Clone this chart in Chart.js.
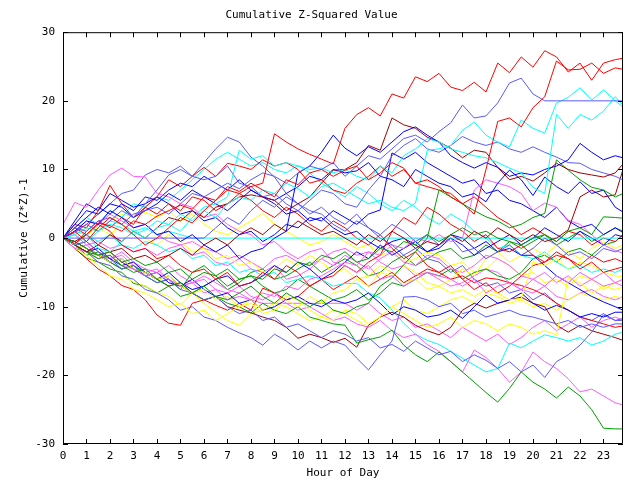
<!DOCTYPE html>
<html>
<head>
<meta charset="utf-8">
<title>Cumulative Z-Squared Value</title>
<script src="https://cdn.jsdelivr.net/npm/chart.js@4.4.1/dist/chart.umd.min.js"></script>
<style>
  html, body { margin: 0; padding: 0; background: #fff; }
  canvas { display: block; }
</style>
</head>
<body>
<canvas id="chart" width="640" height="480"></canvas>
<script>
// half-hour readings, last one at the end of the axis
const hours = [0,0.5,1,1.5,2,2.5,3,3.5, 4,4.5,5,5.5,6,6.5,7,7.5, 8,8.5,9,9.5,10,10.5,11,11.5,
  12,12.5,13,13.5,14,14.5,15,15.5, 16,16.5,17,17.5,18,18.5,19,19.5, 20,20.5,21,21.5,22,22.5,23,23.5, 23.83];
const xTicks = [0,1,2,3,4,5,6,7,8,9,10,11,12,13,14,15,16,17,18,19,20,21,22,23];
const yTicks = [-30, -20, -10, 0, 10, 20, 30];

const red1 = [0,-0.8,0.5,2.2,1.8,1.0,2.5,2.0, 3.2,4.0,4.8,4.2,6.0,5.5,7.0,6.5, 7.5,8.0,15.2,14.0,13.0,12.2,11.5,10.8,
  16.0,18.0,19.0,17.8,21.0,20.4,23.5,22.8, 24.0,22.0,21.5,22.7,21.3,25.5,24.1,26.4, 24.9,27.3,26.4,24.2,25.5,23.0,25.5,26.0, 26.2];
const red2 = [0,1.0,-0.5,1.5,3.0,2.0,0.5,-1.0, 0.0,1.5,3.0,2.2,4.0,5.5,7.5,6.8, 8.0,7.0,6.0,8.5,7.8,9.5,10.0,9.0,
  9.9,10.5,8.5,9.5,11.0,10.2,8.0,8.5, 7.5,6.0,5.0,3.5,10.0,17.0,17.5,16.2, 19.0,20.6,25.8,24.5,24.6,25.5,24.0,24.8, 24.6];
const lblue1 = [0,1.5,1.0,2.5,3.0,2.0,3.5,4.0, 4.5,3.5,5.0,6.5,6.0,7.0,8.0,7.2, 8.5,9.5,9.0,8.0,9.5,10.5,10.0,11.0,
  9.0,10.5,12.0,11.5,13.0,14.5,15.0,14.0, 15.5,16.8,19.4,17.5,17.8,19.7,22.6,23.3, 21.0,20.0,20.0,20.0,20.0,20.0,20.0,20.0, 20.0];
const cyan1 = [0,-1.0,0.5,-1.5,-2.0,-0.5,1.0,0.0, 1.5,2.0,3.5,2.5,4.0,3.0,5.0,6.0, 5.5,7.0,6.5,8.0,7.2,6.0,7.5,8.0,
  7.0,6.0,5.0,5.5,4.5,4.0,5.1,12.8, 13.0,13.5,15.7,16.9,15.0,14.0,13.3,17.2, 16.0,15.3,19.7,20.5,21.9,20.1,21.6,20.0, 19.1];
const cyan2 = [0,0.5,-0.5,1.0,2.0,1.5,0.5,1.2, 2.5,2.0,1.0,3.0,4.5,5.0,6.0,12.8, 11.5,12.0,10.5,11.0,10.5,10.0,10.2,9.5,
  10.0,9.0,8.5,10.5,9.5,12.0,13.0,14.5, 14.0,13.0,12.5,12.0,11.7,11.0,10.2,9.5, 7.4,6.5,18.0,16.0,18.0,17.2,18.5,20.6, 19.4];
const blue1 = [0,1.0,2.5,2.0,4.0,3.0,1.5,2.0, 0.5,1.0,-0.5,0.5,-1.0,-2.0,-1.0,-3.0, -2.0,-1.5,0.0,1.0,9.5,10.5,12.5,15.0,
  13.1,12.0,13.3,12.5,14.0,15.5,16.2,15.0, 14.0,12.0,11.0,10.2,11.0,10.3,9.0,9.5, 9.2,10.0,10.5,11.4,13.8,12.5,11.4,12.0, 11.7];
const dred1 = [0,-1.0,-2.0,-1.0,0.5,-0.5,1.0,0.0, 1.5,3.0,2.5,4.0,3.0,4.5,5.0,6.0, 6.3,6.0,5.5,4.0,5.0,6.0,8.0,9.9,
  10.0,11.0,13.5,12.8,17.5,16.5,16.0,14.7, 14.0,13.1,11.7,12.8,12.5,10.3,8.5,9.0, 8.3,9.5,10.9,10.0,9.5,9.2,8.9,9.5, 10.8];
const lblue2 = [0,0.8,2.0,1.0,2.5,4.0,3.0,5.0, 7.0,9.2,10.0,9.0,8.5,9.0,10.5,8.0, 7.5,6.0,6.5,5.0,4.0,5.5,7.0,6.5,
  5.0,4.5,7.0,9.0,12.0,13.5,14.5,13.0, 12.5,13.5,14.8,14.0,13.5,14.0,13.0,12.5, 13.3,12.5,11.8,11.0,10.9,10.0,9.5,9.0, 8.5];
const green1 = [0,-1.0,-2.0,-3.0,-2.5,-4.0,-5.0,-4.5, -6.0,-7.0,-6.5,-8.0,-7.0,-8.5,-9.0,-8.0, -7.0,-8.5,-9.5,-8.0,-9.0,-10.0,-9.0,-10.5,
  -11.0,-10.0,-9.5,-7.0,-5.8,-3.9,-2.0,0.0, 7.0,6.0,5.0,4.0,3.1,2.5,1.5,2.0, 3.0,3.6,11.4,9.9,8.5,7.4,7.0,6.0, 6.5];
const blue2 = [0,2.0,4.0,3.5,5.0,4.5,3.0,4.0, 5.0,6.5,5.5,7.0,6.0,5.0,4.0,5.5, 7.0,6.0,5.5,6.5,7.5,9.0,8.5,10.0,
  9.5,9.8,11.0,9.0,8.5,7.5,10.0,9.0, 8.0,7.5,6.0,6.5,5.3,8.0,9.9,8.5, 6.2,8.9,7.5,6.5,8.2,6.5,7.0,4.5, 3.8];
const green2 = [0,-0.5,-1.5,-2.5,-2.0,-3.5,-3.0,-4.0, -3.5,-5.0,-4.5,-6.0,-5.0,-5.5,-7.0,-6.0, -5.5,-6.0,-4.5,-5.0,-3.5,-4.0,-2.5,-3.0,
  -2.0,-3.5,-3.0,-1.5,-2.0,-0.5,-1.0,0.5, -0.5,0.5,1.5,0.5,1.0,0.0,-0.5,-1.0, 0.0,0.5,-0.5,1.0,1.5,0.5,3.1,3.0, 2.9];
const lblue3 = [0,0,0,0,0,0,0,0, 0,0,0,0,0,1.5,3.0,2.0, 4.0,5.5,4.5,6.0,5.0,3.5,4.5,3.0,
  2.0,3.5,1.5,0.5,2.0,1.0,-0.5,0.5, -1.0,0.0,-2.0,-1.5,-3.0,-2.0,-1.0,-2.5, -1.5,0.0,-1.0,-2.5,-2.0,-3.0,-1.5,-2.0, -1.5];
const cyanFlat = [0,0.5,1.5,1.0,2.5,2.0,1.0,1.5, 0.5,1.0,0.5,0,0,0,0,0, 0,0,0,0,0,0,0,0,
  0,0,0,0,0,0,0,0, 0,0,0,0,0,0,0,0, 0,0,0,0,0,0,0,0, 0];
const mag1 = [2.0,5.2,4.5,7.0,9.2,10.2,9.0,8.9, 6.5,6.0,5.0,4.5,3.0,3.5,2.0,1.0, 0.5,-1.0,-0.5,-2.0,-3.0,-2.0,-1.5,-3.5,
  -4.0,-5.0,-4.0,-6.0,-5.5,-7.0,-6.0,-5.0, -5.5,-6.0,-7.0,-6.0,-8.0,-7.0,-6.5,-7.5, -6.0,-7.0,-5.5,-6.5,-5.0,-6.0,-7.0,-6.5, -6.0];
const mag2 = [0,-1.5,-2.0,-3.0,-2.5,-4.0,-4.5,-5.5, -5.0,-6.0,-7.0,-6.5,-5.5,-6.5,-7.5,-8.0, -9.0,-8.0,-8.5,-7.0,-7.5,-6.0,-5.5,-4.5,
  -3.5,-4.0,-2.0,-2.5,-1.0,-1.5,0.0,-0.5, 0.5,-0.5,0.0,7.0,8.5,8.0,7.5,6.5, 4.0,5.1,4.5,2.6,2.0,0.5,-1.0,-1.8, -2.2];
const red3 = [0,1.5,0.5,2.0,1.0,-1.0,-2.0,-1.5, -3.0,-2.5,-4.0,-5.0,-4.5,-6.0,-5.0,-7.0, -6.5,-5.0,-6.0,-4.0,-5.0,-7.0,-6.0,-5.5,
  -4.0,-5.0,-3.5,-2.5,1.0,3.0,2.0,4.5, 3.5,2.0,1.0,-0.5,0.5,-1.5,-2.0,-1.0, -2.5,-3.5,-2.0,-3.0,-4.5,-3.5,-5.0,-4.5, -4.2];
const yel1 = [0,-1.0,-1.5,-2.5,-3.5,-3.0,-4.5,-5.0, -6.0,-5.5,-7.0,-8.0,-7.5,-9.0,-8.5,-10.0, -9.5,-11.0,-10.5,-9.0,-10.0,-8.5,-9.5,-8.0,
  -7.5,-6.0,-7.0,-5.0,-5.5,-4.0,-5.0,-6.5, -7.0,-8.0,-7.5,-8.5,-7.5,-8.0,-9.0,-8.8, -3.5,-4.0,-3.0,-4.5,-3.5,-4.0,-5.0,-5.5, -5.6];
const yel2 = [0,-1.5,-2.5,-4.0,-5.5,-6.0,-7.5,-8.0, -9.0,-10.0,-9.5,-11.0,-10.5,-12.0,-11.0,-10.0, -9.0,-10.5,-9.5,-8.5,-9.0,-10.5,-11.5,-12.0,
  -10.5,-11.0,-12.5,-11.5,-10.0,-11.0,-12.0,-13.0, -12.5,-11.5,-13.0,-12.0,-12.5,-13.5,-12.5,-13.0, -14.0,-13.5,-14.1,-5.8,-6.5,-8.0,-7.0,-7.5, -7.1];
const blue3 = [0,1.5,3.0,4.5,3.5,5.0,4.0,6.0, 5.5,7.0,8.0,7.5,9.0,8.0,7.0,8.5, 7.0,6.0,5.0,3.5,4.0,2.5,3.0,1.5,
  0.5,1.0,-0.5,-1.5,-0.5,0.0,-1.0,-2.0, -1.5,0.0,-1.0,-2.5,-1.5,-0.5,0.5,-1.0, 0.0,1.5,0.5,-0.5,1.0,0.0,-1.0,0.5, 0.2];
const blue4 = [0,-1.0,-2.0,-1.5,-3.0,-4.0,-3.5,-5.0, -6.0,-5.0,-6.5,-7.5,-7.0,-6.0,-5.5,-7.0, -6.5,-5.5,-4.0,-5.0,-3.5,-4.5,-6.0,-5.0,
  -3.5,-2.0,-3.0,-1.0,-2.5,-1.5,-0.5,-2.0, -1.0,0.5,0.0,-1.5,-0.5,-2.0,-1.5,-2.5, -2.5,-4.0,-5.5,-6.5,-7.5,-8.5,-9.3,-10.0, -10.5];
const blue5 = [0,-0.5,-1.5,-2.5,-3.5,-3.0,-4.5,-5.5, -5.0,-6.5,-7.0,-6.0,-7.5,-8.5,-8.0,-9.5, -9.0,-10.5,-10.0,-9.0,-8.5,-9.5,-10.0,-9.0,
  -9.5,-9.0,-8.0,-9.5,-11.2,-10.0,-10.5,-11.5, -11.2,-10.5,-11.7,-10.0,-8.3,-9.5,-9.0,-8.0, -9.5,-10.5,-9.8,-10.5,-11.5,-11.0,-11.5,-10.8, -10.8];
const lblue4 = [0,-1.0,-0.5,-2.0,-3.0,-4.5,-4.0,-5.5, -6.5,-6.0,-7.5,-8.0,-9.0,-8.5,-10.0,-11.0, -10.5,-12.0,-11.5,-13.0,-12.5,-13.5,-14.5,-13.5,
  -14.0,-15.0,-14.5,-16.0,-15.5,-16.5,-15.0,-16.0, -17.0,-16.5,-18.0,-17.0,-17.8,-19.0,-18.0,-19.5, -18.5,-20.3,-18.0,-17.0,-15.6,-13.7,-11.2,-12.0, -11.7];
const lblue5 = [0,-1.0,-2.0,-3.5,-4.0,-5.5,-6.0,-7.5, -8.0,-9.0,-10.5,-10.0,-11.5,-12.0,-13.0,-13.8, -14.5,-15.6,-14.0,-15.0,-16.3,-15.0,-16.0,-15.0,
  -15.6,-17.5,-19.2,-17.0,-15.0,-8.6,-8.5,-9.0, -10.0,-9.5,-11.0,-10.5,-11.5,-11.0,-10.5,-11.2, -11.5,-12.0,-12.5,-12.0,-13.0,-12.5,-13.0,-12.5, -12.5];
const green3 = [0,-1.0,-2.0,-2.5,-3.5,-4.5,-4.0,-5.0, -6.0,-5.5,-7.0,-8.0,-9.0,-8.5,-9.5,-10.0, -10.9,-9.5,-10.5,-11.0,-10.0,-11.5,-12.0,-12.5,
  -12.7,-15.3,-14.8,-14.4,-13.4,-15.6,-17.0,-18.0, -16.6,-18.0,-19.5,-21.0,-22.5,-23.9,-21.9,-19.5, -21.0,-22.0,-23.3,-21.7,-23.0,-25.0,-27.7,-27.8, -27.8];
const mag3 = [0,-1.5,-1.0,-2.5,-3.0,-2.0,-3.5,-4.5, -5.0,-4.0,-5.5,-6.5,-6.0,-7.5,-8.0,-7.0, -8.5,-9.0,-8.0,-9.5,-10.5,-10.0,-11.0,-12.0,
  -11.5,-12.5,-13.0,-12.0,-13.5,-14.5,-14.0,-15.5, -16.5,-18.0,-19.5,-16.3,-17.4,-19.0,-21.0,-19.5, -16.6,-18.0,-19.0,-20.5,-22.4,-22.0,-23.0,-24.0, -24.3];
const cyan3 = [0,1.0,0.5,-0.5,0.5,-1.0,-1.5,-0.5, -1.0,-2.0,-1.5,-3.0,-2.5,-4.0,-3.5,-5.0, -4.5,-5.5,-5.0,-6.5,-6.0,-5.5,-6.0,-7.0,
  -6.6,-6.6,-8.0,-8.7,-10.5,-12.4,-14.0,-14.9, -15.5,-16.5,-17.5,-18.5,-19.5,-19.0,-15.3,-16.0, -15.0,-14.1,-14.5,-15.0,-14.5,-15.6,-15.0,-14.0, -13.7];
const red4 = [0,-1.5,-3.0,-4.5,-5.5,-6.9,-7.5,-9.0, -11.2,-12.4,-12.7,-9.5,-9.0,-9.8,-10.5,-9.5, -10.5,-7.3,-8.0,-9.0,-8.5,-7.0,-6.0,-7.5,
  -6.5,-5.5,-7.0,-6.0,-5.0,-6.5,-5.5,-4.5, -5.0,-6.0,-5.5,-6.5,-5.8,-6.0,-6.5,-6.9, -7.5,-8.3,-9.5,-10.5,-11.5,-12.0,-12.5,-13.0, -12.8];
const dred3 = [0,-0.5,-1.5,-2.5,-2.0,-3.5,-4.5,-5.0, -6.0,-7.0,-6.5,-8.0,-9.0,-8.5,-10.0,-10.5, -10.9,-11.5,-12.0,-13.0,-14.6,-14.0,-14.5,-15.2,
  -14.6,-15.9,-12.7,-11.5,-10.8,-11.5,-12.7,-13.5, -14.1,-13.0,-10.5,-9.5,-10.2,-9.5,-9.0,-8.6, -9.5,-10.0,-12.7,-13.7,-12.7,-13.5,-14.0,-14.5, -14.9];
const yel3 = [0,-1.0,-2.0,-3.5,-4.0,-5.5,-6.4,-7.0, -7.9,-8.5,-9.8,-8.0,-9.5,-10.8,-12.0,-12.7, -11.0,-10.5,-9.5,-10.0,-11.0,-12.0,-11.5,-10.5,
  -11.0,-12.0,-13.0,-11.5,-10.0,-9.0,-10.5,-11.0, -10.0,-9.0,-8.5,-9.5,-8.0,-8.5,-9.5,-9.0, -10.0,-9.5,-10.5,-9.0,-8.0,-8.5,-9.0,-8.5, -8.8];
const yel4 = [0,-0.5,0.5,1.5,0.5,2.0,1.0,0.0, -1.0,0.5,-0.5,-2.0,-1.5,-3.0,-2.5,-4.0, -3.5,-5.0,-4.5,-3.0,-4.0,-2.5,-3.5,-5.0,
  -4.5,-6.0,-5.5,-4.0,-5.0,-6.5,-6.0,-7.5, -7.0,-6.0,-4.5,-5.5,-3.0,-2.0,-3.5,-2.5, -1.5,-2.5,-1.0,-2.0,-3.0,-1.5,-0.5,-1.5, -1.0];
const mag4 = [0,1.0,2.5,2.0,3.5,2.5,1.5,2.0, 0.5,-0.5,-1.0,-2.5,-2.0,-3.5,-4.0,-3.0, -4.5,-5.0,-4.0,-6.0,-5.5,-4.5,-3.0,-4.0,
  -2.5,-3.5,-4.5,-3.0,-2.0,-3.5,-4.0,-2.5, -3.0,-4.5,-5.0,-4.0,-2.5,-3.0,-4.0,-5.5, -6.0,-5.0,-6.5,-5.5,-7.0,-6.0,-5.0,-6.5, -7.0];
const red5 = [0,2.0,1.5,4.0,7.7,5.0,3.0,4.5, 6.0,8.5,7.5,9.0,10.3,9.0,10.9,10.5, 10.0,11.4,10.5,11.0,10.0,8.0,8.5,7.0,
  6.5,8.0,9.0,10.5,9.0,10.0,8.0,7.5, 7.0,6.5,5.0,6.0,4.5,3.0,2.0,0.5, 1.5,0.5,-0.5,1.0,0.5,-1.0,0.0,-0.5, 0.5];
const red6 = [0,-1.0,1.0,2.5,1.5,3.0,2.0,4.5, 3.5,5.0,4.0,6.0,5.5,4.0,5.0,6.5, 5.5,4.0,3.0,4.5,3.5,2.0,1.0,2.5,
  1.5,0.0,-1.0,0.5,-1.5,-3.0,-2.0,-4.0, -5.0,-4.0,-6.0,-7.5,-6.5,-8.0,-7.0,-5.5, -4.0,-3.5,-2.5,-3.0,-4.0,-2.5,-3.5,-3.0, -3.5];
const blue6 = [0,2.5,5.0,4.0,6.5,5.5,4.5,5.0, 6.0,5.0,3.5,4.0,2.5,3.0,1.5,0.5, 1.0,-0.5,0.5,2.0,1.5,3.0,2.5,4.0,
  3.0,2.0,3.5,4.1,12.4,11.5,12.5,11.0, 10.0,9.0,8.0,8.5,6.5,7.0,5.5,5.0, 4.0,3.0,4.5,2.5,1.5,2.0,0.5,1.5, 0.8];
const cyan4 = [0,1.5,3.0,2.0,4.0,3.0,5.0,4.5, 6.0,5.5,7.0,8.5,10.0,11.5,12.5,11.5, 10.5,11.0,10.0,9.5,10.6,9.5,8.0,7.0,
  6.0,7.5,6.5,5.0,4.0,5.5,4.5,3.0, 2.0,3.5,2.5,1.0,0.0,-1.5,-1.0,-2.5, -3.0,-2.0,-3.5,-4.5,-4.0,-5.0,-4.5,-5.0, -4.5];
const green4 = [0,-1.0,-2.5,-2.0,-3.5,-4.5,-4.0,-5.5, -6.5,-6.0,-7.5,-5.0,-4.0,-5.5,-4.5,-6.0, -5.5,-7.0,-8.0,-7.5,-6.0,-7.0,-8.0,-9.0,
  -8.5,-7.5,-9.0,-8.0,-6.5,-7.0,-6.0,-5.0, -5.5,-4.5,-6.0,-5.0,-4.5,-5.5,-6.0,-5.0, -3.0,-2.5,-3.5,-2.0,-1.5,-2.5,-1.0,-0.5, 0.5];
const yel5 = [0,0.5,1.5,1.0,2.5,3.5,3.0,3.8, 3.0,4.0,2.5,3.5,2.0,1.0,0.5,1.5, 2.5,3.6,2.0,1.0,0.0,-1.0,-0.5,0.5,
  -0.5,-1.5,-1.0,-2.5,-2.0,-3.5,-3.0,-2.0, -2.5,-4.0,-3.5,-5.0,-4.5,-3.0,-4.0,-5.5, -5.0,-6.5,-6.0,-7.0,-5.5,-6.0,-7.5,-6.5, -6.0];
const green5 = [0,-1.5,-2.9,-3.5,-4.5,-5.0,-6.6,-7.0, -8.0,-7.0,-8.5,-8.0,-7.0,-6.0,-7.5,-6.5, -5.0,-4.5,-6.0,-5.5,-4.5,-3.5,-5.0,-4.0,
  -3.0,-4.0,-5.5,-5.0,-3.5,-2.5,-4.0,-3.0, -2.0,-1.5,-3.0,-2.5,-1.0,-2.0,-0.5,-1.5, -0.5,0.5,-1.0,0.0,1.0,-0.5,0.5,1.5, 1.0];
const mag5 = [0,-1.0,-0.5,-2.0,-3.0,-2.5,-4.0,-5.0, -4.5,-6.0,-7.0,-6.5,-8.0,-7.5,-9.0,-8.5, -9.0,-9.5,-9.5,-9.5,-9.5,-9.5,-9.5,-9.5,
  -9.5,-10.5,-9.5,-11.0,-12.0,-11.5,-13.0,-12.5, -13.5,-14.5,-13.0,-14.0,-15.0,-14.0,-15.5,-14.5, -13.0,-12.0,-13.5,-12.5,-11.5,-13.0,-12.0,-11.5, -12.0];
const mag6 = [0,0.5,-1.0,-0.5,-1.5,-1.0,-2.0,-1.5, -2.5,-1.5,-1.0,-0.5,-1.5,-2.0,-3.0,-2.5, -3.5,-4.5,-3.0,-2.5,-3.5,-4.0,-3.0,-2.0,
  -1.5,-2.5,-2.0,-3.5,-4.5,-4.0,-5.5,-5.0, -6.0,-7.0,-6.5,-5.5,-4.5,-5.0,-6.5,-7.5, -8.0,-7.0,-8.5,-9.0,-8.0,-7.5,-8.5,-9.0, -8.5];
const lblue6 = [0,1.0,2.0,3.5,5.0,6.5,7.0,9.2, 10.0,9.5,10.5,9.0,11.0,13.0,14.7,14.0, 11.8,10.5,8.9,6.5,5.0,4.0,3.5,2.0,
  1.0,2.5,1.5,0.0,-1.0,-2.5,-1.5,-3.0, -3.5,-5.0,-4.0,-6.0,-7.0,-6.5,-8.0,-7.5, -9.0,-8.0,-9.5,-10.5,-11.5,-12.0,-11.0,-12.0, -12.0];
const dred2 = [0,-0.5,0.5,-1.0,-2.0,-1.5,-3.0,-2.5, -3.5,-2.5,-1.5,-2.5,-1.0,0.0,-1.0,0.5, 1.5,0.5,2.0,1.0,2.5,1.5,0.5,1.0,
  0.0,-1.0,0.5,-0.5,1.0,0.0,-1.5,-0.5, -1.0,0.5,-0.5,1.0,0.0,1.5,0.5,-0.5, 0.5,-0.5,0.0,1.2,6.0,7.0,6.0,6.3, 10.0];

const palette = {
  red: "#ff0000",
  blue: "#0000ff",
  lblue: "#5a5aff",
  cyan: "#00ffff",
  mag: "#ff5aff",
  yel: "#ffff00",
  green: "#00a000",
  dred: "#a00000"
};

// first entry is drawn on top
const seriesList = [
  [red1, "red"], [red2, "red"], [lblue1, "lblue"], [cyan1, "cyan"], [cyan2, "cyan"],
  [blue1, "blue"], [dred1, "dred"], [lblue2, "lblue"], [green1, "green"], [blue2, "blue"],
  [green2, "green"], [dred2, "dred"], [lblue3, "lblue"], [cyanFlat, "cyan"], [mag1, "mag"],
  [mag2, "mag"], [red3, "red"], [yel1, "yel"], [yel2, "yel"], [blue3, "blue"],
  [blue4, "blue"], [blue5, "blue"], [lblue4, "lblue"], [lblue5, "lblue"], [green3, "green"],
  [mag3, "mag"], [cyan3, "cyan"], [red4, "red"], [dred3, "dred"], [yel3, "yel"],
  [yel4, "yel"], [mag4, "mag"], [red5, "red"], [red6, "red"], [blue6, "blue"],
  [cyan4, "cyan"], [green4, "green"], [yel5, "yel"], [green5, "green"], [mag5, "mag"],
  [mag6, "mag"], [lblue6, "lblue"]
];

const FONT = "'DejaVu Sans Mono', 'Liberation Mono', monospace";
Chart.defaults.font.family = FONT;
Chart.defaults.font.size = 11;
Chart.defaults.color = "#000";

// frame round the plot plus short inward tick marks on all four sides
const frameTicks = {
  id: "frameTicks",
  afterDatasetsDraw(chart) {
    const { ctx, chartArea: a, scales: { x, y } } = chart;
    const len = 5;
    ctx.save();
    ctx.strokeStyle = "#000";
    ctx.lineWidth = 1;
    ctx.beginPath();
    ctx.rect(a.left + 0.5, a.top + 0.5, a.right - a.left - 1, a.bottom - a.top - 1);
    x.ticks.forEach((t) => {
      const px = Math.round(x.getPixelForValue(t.value)) + 0.5;
      ctx.moveTo(px, a.top);
      ctx.lineTo(px, a.top + len);
      ctx.moveTo(px, a.bottom);
      ctx.lineTo(px, a.bottom - len);
    });
    y.ticks.forEach((t) => {
      const py = Math.round(y.getPixelForValue(t.value)) + 0.5;
      ctx.moveTo(a.left, py);
      ctx.lineTo(a.left + len, py);
      ctx.moveTo(a.right, py);
      ctx.lineTo(a.right - len, py);
    });
    ctx.stroke();
    ctx.restore();
  }
};

new Chart(document.getElementById("chart"), {
  type: "line",
  data: {
    datasets: seriesList.map(([vals, key]) => ({
      data: hours.map((h, i) => ({ x: h, y: vals[i] })),
      borderColor: palette[key],
      borderWidth: 1,
      pointRadius: 0,
      tension: 0,
      fill: false
    }))
  },
  options: {
    responsive: false,
    animation: false,
    layout: { padding: { left: 0, right: 17, top: 0, bottom: 0 } },
    plugins: {
      legend: { display: false },
      tooltip: { enabled: false },
      title: {
        display: true,
        text: "Cumulative Z-Squared Value",
        color: "#000",
        font: { family: FONT, size: 11, weight: "normal" },
        padding: { top: 9, bottom: 10 }
      }
    },
    scales: {
      x: {
        type: "linear",
        min: 0,
        max: 23.83,
        grid: { display: false, drawTicks: false },
        border: { display: false },
        ticks: { padding: 6, maxRotation: 0, autoSkip: false, color: "#000" },
        afterBuildTicks: (s) => { s.ticks = xTicks.map((v) => ({ value: v })); },
        afterFit: (s) => { s.height = 36; },
        title: { display: true, text: "Hour of Day", color: "#000", padding: { top: 1, bottom: 0 } }
      },
      y: {
        min: -30,
        max: 30,
        grid: { display: false, drawTicks: false },
        border: { display: false },
        afterBuildTicks: (s) => { s.ticks = yTicks.map((v) => ({ value: v })); },
        ticks: { padding: 8, color: "#000" },
        afterFit: (s) => { s.width = 63; },
        title: { display: true, text: "Cumulative (Z*Z)-1", color: "#000", padding: { top: 18, bottom: 0 } }
      }
    }
  },
  plugins: [frameTicks]
});
</script>
</body>
</html>
